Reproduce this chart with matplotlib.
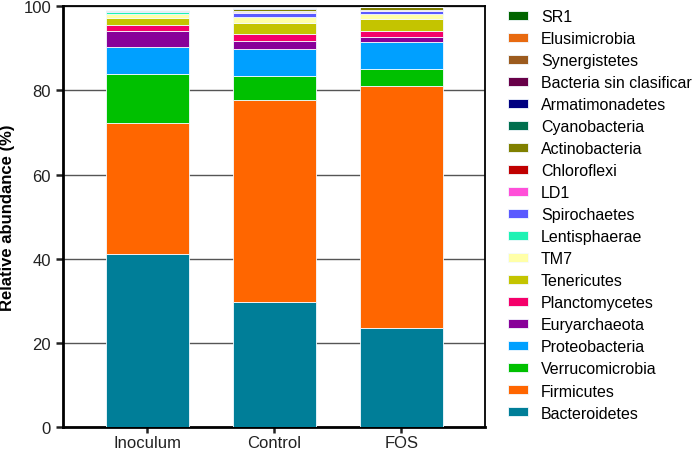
import matplotlib.pyplot as plt
import numpy as np

plt.rcParams["font.family"] = ["Liberation Sans", "DejaVu Sans"]

# =========================
# DATA (relative abundance, %)
# =========================

SAMPLES = ["Inoculum", "Control", "FOS"]

# stacking order, bottom to top
PHYLA = [
    "Bacteroidetes", "Firmicutes", "Verrucomicrobia", "Proteobacteria",
    "Euryarchaeota", "Planctomycetes", "Tenericutes", "TM7", "Lentisphaerae",
    "Spirochaetes", "LD1", "Chloroflexi", "Actinobacteria", "Cyanobacteria",
    "Armatimonadetes", "Bacteria sin clasificar", "Synergistetes",
    "Elusimicrobia", "SR1",
]

bacteroidetes = [41.1, 29.7, 23.5]
firmicutes = [31.1, 48.1, 57.6]
verrucomicrobia = [11.6, 5.7, 3.9]
proteobacteria = [6.4, 6.3, 6.5]
euryarchaeota = [3.8, 1.8, 1.2]
planctomycetes = [1.6, 1.7, 1.4]
tenericutes = [1.5, 2.6, 2.8]
tm7 = [0.9, 1.5, 1.2]
lentisphaerae = [0.55, 0.05, 0.05]
spirochaetes = [0.25, 1.0, 0.6]
ld1 = [0.05, 0.2, 0.2]
chloroflexi = [0.05, 0.2, 0.2]
actinobacteria = [0.05, 0.5, 0.5]
cyanobacteria = [0.02, 0.05, 0.05]
armatimonadetes = [0.02, 0.03, 0.03]
sin_clasificar = [0.02, 0.05, 0.05]
synergistetes = [0.02, 0.03, 0.03]
elusimicrobia = [0.02, 0.03, 0.03]
sr1 = [0.02, 0.03, 0.03]

VALUES = [
    bacteroidetes, firmicutes, verrucomicrobia, proteobacteria, euryarchaeota,
    planctomycetes, tenericutes, tm7, lentisphaerae, spirochaetes, ld1,
    chloroflexi, actinobacteria, cyanobacteria, armatimonadetes,
    sin_clasificar, synergistetes, elusimicrobia, sr1,
]

COLORS = [
    "#007E98", "#FF6600", "#00C000", "#00A0FF", "#880099", "#F5006A",
    "#C4C400", "#FFFFA8", "#1EF2B4", "#5A5AFF", "#FF4FD8", "#C00000",
    "#808000", "#006F4F", "#000080", "#680048", "#9C5B1E", "#E86A10",
    "#006400",
]

# =========================
# PLOT
# =========================

fig = plt.figure(figsize=(6.99, 4.56), dpi=100)
ax = fig.add_axes([0.090, 0.0607, 0.604, 0.9239])

x = np.arange(len(SAMPLES))
bottom = np.zeros(len(SAMPLES))
handles = []
for name, vals, col in zip(PHYLA, VALUES, COLORS):
    vals = np.array(vals)
    h = ax.bar(x, vals, 0.65, bottom=bottom, color=col, label=name,
               edgecolor="#F4FAFF", linewidth=0.6, zorder=3)
    handles.append(h)
    bottom += vals

ax.set_xlim(-0.665, 2.66)
ax.set_ylim(0, 100)
ax.set_yticks(np.arange(0, 101, 20))
ax.yaxis.grid(True, color="#555555", linewidth=1.0, zorder=0)
ax.set_xticks(x)
ax.set_xticklabels(SAMPLES)

for side in ["left", "bottom"]:
    ax.spines[side].set_linewidth(2.0)
for side in ["top", "right"]:
    ax.spines[side].set_linewidth(1.3)

ax.tick_params(axis="both", direction="out", width=1.8, length=5,
               labelsize=12, colors="#222222")
ax.tick_params(axis="x", pad=1.5, length=4)
ax.set_ylabel("Relative abundance (%)", fontsize=12, fontweight="bold",
              labelpad=6)

fig.legend(handles[::-1], PHYLA[::-1], loc="upper left",
           bbox_to_anchor=(0.718, 0.992), frameon=False, fontsize=11.5,
           handlelength=1.25, handleheight=0.5, handletextpad=0.8,
           labelspacing=0.44, borderaxespad=0)

fig.savefig("out.png", dpi=100)
